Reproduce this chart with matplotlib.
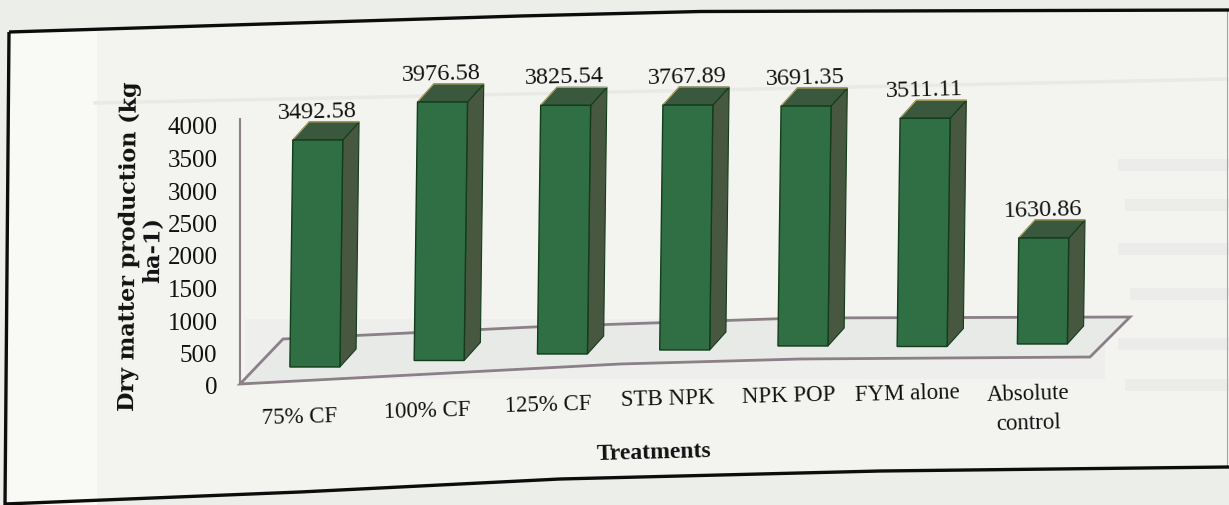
import matplotlib
matplotlib.use("Agg")
import matplotlib.pyplot as plt
from matplotlib.lines import Line2D
from matplotlib.patches import Polygon, Rectangle
from matplotlib.transforms import Affine2D, ScaledTranslation

# ---- data ----
treatments = ["75% CF", "100% CF", "125% CF", "STB NPK", "NPK POP", "FYM alone", "Absolute\ncontrol"]
dry_matter = [3492.58, 3976.58, 3825.54, 3767.89, 3691.35, 3511.11, 1630.86]
value_labels = ["3492.58", "3976.58", "3825.54", "3767.89", "3691.35", "3511.11", "1630.86"]
y_ticks = [0, 500, 1000, 1500, 2000, 2500, 3000, 3500, 4000]

# ---- layout (pixels of the 1229x506 picture) ----
W, H = 1229, 506
AX_L, AX_R, AX_B, AX_T = 241, 1135, 385, 120
PX_PER_VALUE = 0.065
BAR_W = 50
STEP = 121.2
FIRST_CENTRE = 315
X_NUDGE = [0, 3, 5, 6, 3, 1, 0]
BASE_PX = [368, 361.5, 355, 351, 347, 347.5, 345]
DEPTH_X, DEPTH_Y = 16, 18
LEAN = 0.013
LABEL_XY = [(300, 418), (427, 411), (548, 405), (668, 399), (789, 396), (907, 394), (1028, 409)]

SERIF = "Liberation Serif"
FLOOR = "#8b7f88"
FRONT, SIDE, TOP, EDGE = "#2f6f43", "#48573f", "#3a583e", "#123c1c"


def f(x, y):
    return x / W, 1 - y / H


fig = plt.figure(figsize=(W / 100, H / 100), dpi=100, facecolor="#eceee9")

# page ground, frame and faint show-through of the reverse page
fig.add_artist(Polygon([f(9, 33), f(520, 17), f(700, 12.5), f(1229, 11), f(1229, 468), f(880, 472),
                        f(560, 480), f(300, 493), f(5, 506)], closed=True, transform=fig.transFigure,
                       fc="#f3f4f0", ec="none", zorder=-5))
fig.add_artist(Rectangle(f(9, 506), 88 / W, 473 / H, transform=fig.transFigure, fc="#f9faf6", ec="none", zorder=-4))
for gy, gx, gw in [(166, 1118, 111), (206, 1125, 104), (250, 1118, 111), (295, 1130, 99), (345, 1118, 111), (386, 1125, 104)]:
    fig.add_artist(Rectangle(f(gx, gy + 6), gw / W, 12 / H, transform=fig.transFigure, fc="#ecedea", ec="none", zorder=-3))
fig.add_artist(Rectangle(f(245, 380), 860 / W, 60 / H, transform=fig.transFigure, fc="#eeefec", ec="none", zorder=-3))
fig.add_artist(Line2D(*zip(f(95, 104), f(1229, 80)), transform=fig.transFigure, color="#e9eae6", lw=2.5, zorder=-3))

frame = dict(transform=fig.transFigure, color="#0c0c0c", solid_capstyle="butt", zorder=6)
fig.add_artist(Line2D(*zip(f(9, 33), f(520, 17), f(700, 12.5), f(1229, 11)), lw=2.4, **frame))
fig.add_artist(Line2D(*zip(f(5, 505), f(300, 493), f(560, 480), f(880, 472), f(1229, 468)), lw=2.4, **frame))
fig.add_artist(Line2D(*zip(f(9, 33), f(5, 506)), lw=2.4, **frame))
fig.add_artist(Line2D(*zip(f(1227, 11), f(1227, 468)), transform=fig.transFigure, color="#a5a5a5", lw=0.8))

# the axes: one category step and one data unit map onto the picture's pixels
ax = fig.add_axes([AX_L / W, 1 - AX_B / H, (AX_R - AX_L) / W, (AX_B - AX_T) / H])
ax.patch.set_alpha(0)
ax.set_xlim((AX_L - FIRST_CENTRE) / STEP, (AX_R - FIRST_CENTRE) / STEP)
ax.set_ylim(0, (AX_B - AX_T) / PX_PER_VALUE)

# floor of the 3-D box
floor = [f(240, 385), f(620, 365), f(800, 360), f(1090, 358), f(1130, 318), f(800, 319),
         f(533, 328), f(283, 340)]
fig.add_artist(Polygon(floor, closed=True, transform=fig.transFigure, fc="#e8eae8", ec=FLOOR, lw=2, zorder=0.5))

# slight lean of the scanned page
y0 = H - 358
lean = Affine2D.from_values(1, 0, LEAN, 1, -LEAN * y0, 0)
tr = ax.transData + lean

positions = [i + n / STEP for i, n in enumerate(X_NUDGE)]
bases = [(AX_B - b) / PX_PER_VALUE for b in BASE_PX]
half = BAR_W / STEP / 2
dx, dy = DEPTH_X / STEP, DEPTH_Y / PX_PER_VALUE

bars = ax.bar(positions, dry_matter, width=2 * half, bottom=bases, color=FRONT,
              edgecolor=EDGE, linewidth=1, zorder=4)
for bar, x, base, val, text in zip(bars, positions, bases, dry_matter, value_labels):
    bar.set_transform(tr)
    bar.set_clip_on(False)
    top = base + val
    l, r = x - half, x + half
    ax.add_patch(Polygon([(r, base), (r + dx, base + dy), (r + dx, top + dy), (r, top)], closed=True,
                         fc=SIDE, ec=EDGE, lw=0.8, transform=tr, zorder=3, clip_on=False))
    ax.add_patch(Polygon([(l, top), (l + dx, top + dy), (r + dx, top + dy), (r, top)], closed=True,
                         fc=TOP, ec=EDGE, lw=0.8, transform=tr, zorder=3, clip_on=False))
    ax.plot([l, l + dx, r + dx], [top, top + dy, top + dy], color="#b9a862", lw=0.8, transform=tr,
            zorder=3.5, clip_on=False)
    ax.annotate(text, xy=(x, top + dy), xycoords=tr, xytext=(-1, 7.5), textcoords="offset points",
                ha="center", va="center", rotation=1.5, rotation_mode="anchor",
                family=SERIF, fontsize=17.5, color="#111111", zorder=5)

for s in ("top", "right", "bottom"):
    ax.spines[s].set_visible(False)
ax.spines["left"].set_color(FLOOR)
ax.spines["left"].set_linewidth(1.5)
ax.spines["left"].set_position(("outward", 1))
ax.set_zorder(2)

ax.set_yticks(y_ticks)
ax.tick_params(axis="y", length=0, pad=16, labelsize=18, labelcolor="#111111")
shift_y = ScaledTranslation(0, -1 / 100, fig.dpi_scale_trans)
for lab in ax.get_yticklabels():
    lab.set_family(SERIF)
    lab.set_transform(lab.get_transform() + shift_y)

ax.set_xticks(positions)
ax.set_xticklabels(treatments, family=SERIF, fontsize=16.5, color="#111111", rotation=1.5,
                   rotation_mode="anchor", ha="center", va="center", linespacing=1.55)
ax.tick_params(axis="x", length=0, pad=0)
for lab, x, (lx, ly) in zip(ax.get_xticklabels(), positions, LABEL_XY):
    cx = FIRST_CENTRE + STEP * x
    lab.set_transform(lab.get_transform() + ScaledTranslation((lx - cx) / 100, (AX_B - ly) / 100, fig.dpi_scale_trans))

fig.text(129 / W, 1 - 246 / H, "Dry matter production (kg", rotation=89.5, ha="center", va="center",
         rotation_mode="anchor", family="DejaVu Serif", fontweight="bold", fontsize=16, color="#111111")
fig.text(153 / W, 1 - 250 / H, "ha-1)", rotation=89.5, ha="center", va="center", rotation_mode="anchor",
         family="DejaVu Serif", fontweight="bold", fontsize=16, color="#111111")
fig.text(654 / W, 1 - 453 / H, "Treatments", rotation=1.5, ha="center", va="center", rotation_mode="anchor",
         family=SERIF, fontweight="bold", fontsize=17, color="#111111")

fig.savefig("out.png", dpi=100, facecolor=fig.get_facecolor())
